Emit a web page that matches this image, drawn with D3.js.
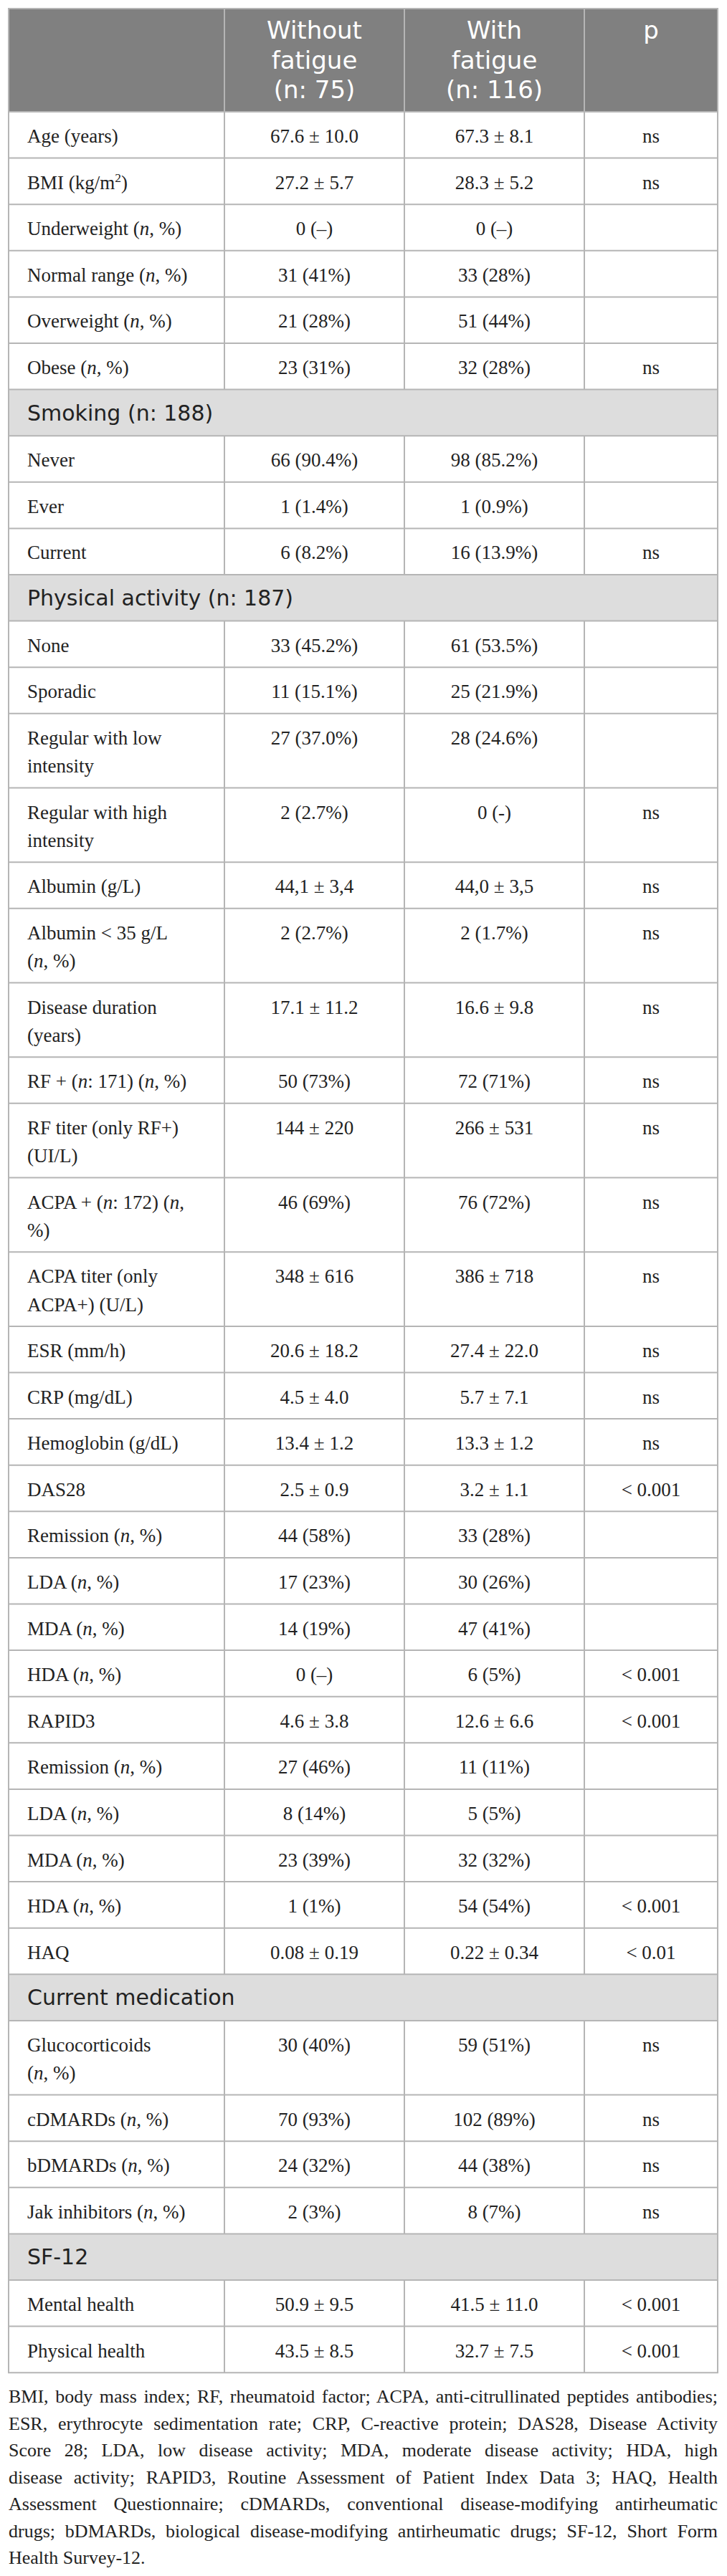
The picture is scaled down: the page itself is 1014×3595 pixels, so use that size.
<!DOCTYPE html>
<html>
<head>
<meta charset="utf-8">
<script src="https://cdn.jsdelivr.net/npm/d3@7"></script>
<style>
  body { margin: 0; background: #fff; }
</style>
</head>
<body>
<div id="table"></div>
<script>
// header text, one array per column
var headerLines = [[], ["Without", "fatigue", "(n: 75)"], ["With", "fatigue", "(n: 116)"], ["p"]];

// row labels: "#" = section row, "|" = line break, _x_ = italic, ^x^ = superscript
var rowLabels = [
    "Age (years)", "BMI (kg/m^2^)", "Underweight (_n_, %)", "Normal range (_n_, %)",
    "Overweight (_n_, %)", "Obese (_n_, %)",
    "#Smoking (n: 188)", "Never", "Ever", "Current",
    "#Physical activity (n: 187)", "None", "Sporadic", "Regular with low|intensity",
    "Regular with high|intensity", "Albumin (g/L)", "Albumin < 35 g/L|(_n_, %)",
    "Disease duration|(years)", "RF + (_n_: 171) (_n_, %)", "RF titer (only RF+)|(UI/L)",
    "ACPA + (_n_: 172) (_n_,|%)", "ACPA titer (only|ACPA+) (U/L)", "ESR (mm/h)", "CRP (mg/dL)",
    "Hemoglobin (g/dL)", "DAS28", "Remission (_n_, %)", "LDA (_n_, %)", "MDA (_n_, %)",
    "HDA (_n_, %)", "RAPID3", "Remission (_n_, %)", "LDA (_n_, %)", "MDA (_n_, %)",
    "HDA (_n_, %)", "HAQ",
    "#Current medication", "Glucocorticoids|(_n_, %)", "cDMARDs (_n_, %)", "bDMARDs (_n_, %)",
    "Jak inhibitors (_n_, %)",
    "#SF-12", "Mental health", "Physical health"
];

var withoutFatigue = [
    "67.6 ± 10.0", "27.2 ± 5.7", "0 (–)", "31 (41%)", "21 (28%)", "23 (31%)",
    null, "66 (90.4%)", "1 (1.4%)", "6 (8.2%)",
    null, "33 (45.2%)", "11 (15.1%)", "27 (37.0%)", "2 (2.7%)", "44,1 ± 3,4", "2 (2.7%)",
    "17.1 ± 11.2", "50 (73%)", "144 ± 220", "46 (69%)", "348 ± 616", "20.6 ± 18.2", "4.5 ± 4.0",
    "13.4 ± 1.2", "2.5 ± 0.9", "44 (58%)", "17 (23%)", "14 (19%)", "0 (–)", "4.6 ± 3.8",
    "27 (46%)", "8 (14%)", "23 (39%)", "1 (1%)", "0.08 ± 0.19",
    null, "30 (40%)", "70 (93%)", "24 (32%)", "2 (3%)",
    null, "50.9 ± 9.5", "43.5 ± 8.5"
];

var withFatigue = [
    "67.3 ± 8.1", "28.3 ± 5.2", "0 (–)", "33 (28%)", "51 (44%)", "32 (28%)",
    null, "98 (85.2%)", "1 (0.9%)", "16 (13.9%)",
    null, "61 (53.5%)", "25 (21.9%)", "28 (24.6%)", "0 (-)", "44,0 ± 3,5", "2 (1.7%)",
    "16.6 ± 9.8", "72 (71%)", "266 ± 531", "76 (72%)", "386 ± 718", "27.4 ± 22.0", "5.7 ± 7.1",
    "13.3 ± 1.2", "3.2 ± 1.1", "33 (28%)", "30 (26%)", "47 (41%)", "6 (5%)", "12.6 ± 6.6",
    "11 (11%)", "5 (5%)", "32 (32%)", "54 (54%)", "0.22 ± 0.34",
    null, "59 (51%)", "102 (89%)", "44 (38%)", "8 (7%)",
    null, "41.5 ± 11.0", "32.7 ± 7.5"
];

var pValues = [
    "ns", "ns", "", "", "", "ns",
    null, "", "", "ns",
    null, "", "", "", "ns", "ns", "ns",
    "ns", "ns", "ns", "ns", "ns", "ns", "ns",
    "ns", "< 0.001", "", "", "", "< 0.001", "< 0.001",
    "", "", "", "< 0.001", "< 0.01",
    null, "ns", "ns", "ns", "ns",
    null, "< 0.001", "< 0.001"
];

var footnoteLines = [
    "BMI, body mass index; RF, rheumatoid factor; ACPA, anti-citrullinated peptides antibodies;",
    "ESR, erythrocyte sedimentation rate; CRP, C-reactive protein; DAS28, Disease Activity",
    "Score 28; LDA, low disease activity; MDA, moderate disease activity; HDA, high",
    "disease activity; RAPID3, Routine Assessment of Patient Index Data 3; HAQ, Health",
    "Assessment Questionnaire; cDMARDs, conventional disease-modifying antirheumatic",
    "drugs; bDMARDs, biological disease-modifying antirheumatic drugs; SF-12, Short Form",
    "Health Survey-12."
];

// svg params
var svgWidth = 1014;
var svgHeight = 3595;
var colEdges = [12, 313, 564, 815, 1001];
var headerTop = 12;
var headerBottom = 156;
var singleRow = 64.6;
var lineStep = 39.1;
var serif = "'Liberation Serif', 'Times New Roman', serif";
var sans = "'DejaVu Sans', 'Open Sans', sans-serif";
var borderColor = "#b5b5b5";

var svg = d3.select("#table")
    .append("svg")
    .attr("width", svgWidth)
    .attr("height", svgHeight)
    .style("display", "block");

// build rows
var rows = rowLabels.map(function(label, i) {
    var section = label[0] === "#";
    var lines = label.replace(/^#/, "").split("|");
    return {
        section: section,
        lines: lines,
        values: [withoutFatigue[i], withFatigue[i], pValues[i]],
        height: singleRow + (lines.length - 1) * lineStep
    };
});
var offsets = d3.cumsum(rows, function(d) { return d.height; });
rows.forEach(function(d, i) {
    d.top = headerBottom + (i === 0 ? 0 : offsets[i - 1]);
});
var tableBottom = headerBottom + offsets[offsets.length - 1];

// column centres
var colCenter = d3.scaleOrdinal()
    .domain([0, 1, 2, 3])
    .range(d3.range(4).map(function(i) { return (colEdges[i] + colEdges[i + 1]) / 2; }));

// header background
svg.append("rect")
    .attr("x", colEdges[0])
    .attr("y", headerTop)
    .attr("width", colEdges[4] - colEdges[0])
    .attr("height", headerBottom - headerTop)
    .attr("fill", "#808080");

// section backgrounds
svg.selectAll("rect.section")
    .data(rows.filter(function(d) { return d.section; }))
    .enter()
    .append("rect")
    .attr("class", "section")
    .attr("x", colEdges[0])
    .attr("y", function(d) { return d.top; })
    .attr("width", colEdges[4] - colEdges[0])
    .attr("height", function(d) { return d.height; })
    .attr("fill", "#dddddd");

// header text: one text element per column, lines as tspans
svg.selectAll("text.head")
    .data(headerLines.filter(function(d) { return d.length; }))
    .enter()
    .append("text")
    .attr("class", "head")
    .attr("font-family", sans)
    .attr("font-size", 34)
    .attr("fill", "#ffffff")
    .attr("text-anchor", "middle")
    .each(function(lines) {
        var c = headerLines.indexOf(lines);
        d3.select(this).selectAll("tspan")
            .data(lines)
            .enter()
            .append("tspan")
            .attr("x", colCenter(c))
            .attr("y", function(d, i) { return headerTop + 42 + i * 41.5; })
            .text(function(d) { return d; });
    });

// rich text helper for italics and superscripts
function addRich(sel, str) {
    str.split(/(_[^_]+_|\^[^^]+\^)/).forEach(function(part) {
        if (!part) return;
        var t = sel.append("tspan");
        if (part[0] === "_") {
            t.attr("font-style", "italic").text(part.slice(1, -1));
        } else if (part[0] === "^") {
            t.attr("baseline-shift", "super").attr("font-size", "65%").text(part.slice(1, -1));
        } else {
            t.text(part);
        }
    });
}

// row text
var rowGroups = svg.selectAll("g.row")
    .data(rows)
    .enter()
    .append("g")
    .attr("class", "row")
    .attr("transform", function(d) { return "translate(0," + d.top + ")"; });

rowGroups.filter(function(d) { return d.section; })
    .append("text")
    .attr("x", 38)
    .attr("y", 43)
    .attr("font-family", sans)
    .attr("font-size", 30)
    .attr("fill", "#222")
    .text(function(d) { return d.lines[0]; });

rowGroups.filter(function(d) { return !d.section; })
    .each(function(d) {
        var g = d3.select(this);
        var label = g.append("text")
            .attr("font-family", serif)
            .attr("font-size", 27)
            .attr("fill", "#222");
        d.lines.forEach(function(line, i) {
            var ln = label.append("tspan")
                .attr("x", 38)
                .attr("y", 43 + i * 39.5);
            addRich(ln, line);
        });
        d.values.forEach(function(v, c) {
            if (!v) return;
            g.append("text")
                .attr("x", colCenter(c + 1))
                .attr("y", 43)
                .attr("text-anchor", "middle")
                .attr("font-family", serif)
                .attr("font-size", 27)
                .attr("fill", "#222")
                .text(v);
        });
    });

// horizontal grid lines
var hLines = [headerTop, headerBottom].concat(rows.map(function(d) { return d.top + d.height; }));
svg.selectAll("line.h")
    .data(hLines)
    .enter()
    .append("line")
    .attr("x1", colEdges[0] - 1)
    .attr("x2", colEdges[4] + 1)
    .attr("y1", function(d) { return d; })
    .attr("y2", function(d) { return d; })
    .attr("stroke", borderColor)
    .attr("stroke-width", 2);

// vertical grid lines: outer edges full height, inner ones skip section rows
var vSegments = [];
[colEdges[0], colEdges[4]].forEach(function(x) {
    vSegments.push({ x: x, y1: headerTop, y2: tableBottom });
});
colEdges.slice(1, 4).forEach(function(x) {
    vSegments.push({ x: x, y1: headerTop, y2: headerBottom });
    rows.forEach(function(d) {
        if (!d.section) vSegments.push({ x: x, y1: d.top, y2: d.top + d.height });
    });
});
svg.selectAll("line.v")
    .data(vSegments)
    .enter()
    .append("line")
    .attr("x1", function(d) { return d.x; })
    .attr("x2", function(d) { return d.x; })
    .attr("y1", function(d) { return d.y1; })
    .attr("y2", function(d) { return d.y2; })
    .attr("stroke", borderColor)
    .attr("stroke-width", 2);

// footnote, justified line by line
var noteWidth = colEdges[4] - colEdges[0];
svg.selectAll("text.note")
    .data(footnoteLines)
    .enter()
    .append("text")
    .attr("class", "note")
    .attr("x", colEdges[0])
    .attr("y", function(d, i) { return tableBottom + 42 + i * 37.5; })
    .attr("font-family", serif)
    .attr("font-size", 26)
    .attr("fill", "#222")
    .text(function(d) { return d; })
    .each(function(d, i) {
        if (i === footnoteLines.length - 1) return;
        var len = this.getComputedTextLength();
        var spaces = d.split(" ").length - 1;
        var extra = noteWidth - len;
        if (extra >= 0) {
            d3.select(this).attr("word-spacing", extra / spaces);
        } else {
            d3.select(this).attr("textLength", noteWidth).attr("lengthAdjust", "spacingAndGlyphs");
        }
    });
</script>
</body>
</html>
